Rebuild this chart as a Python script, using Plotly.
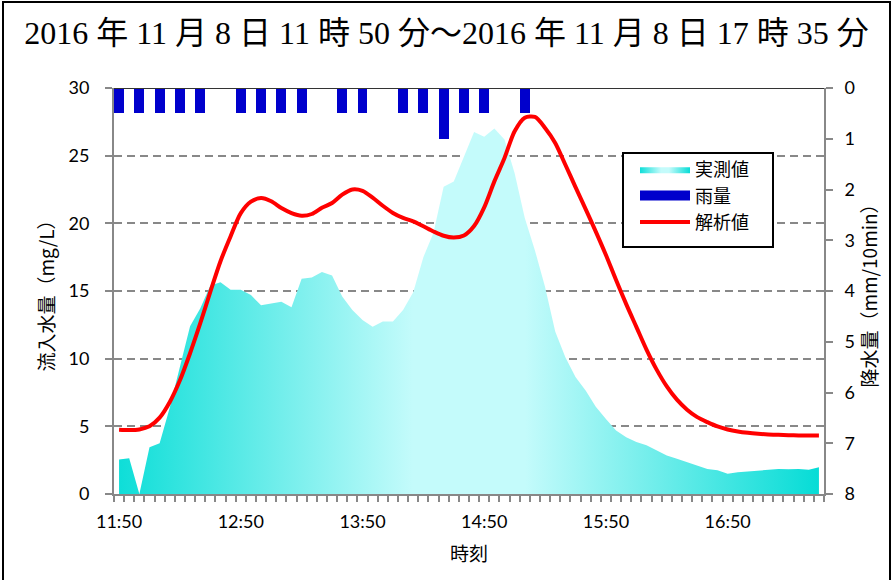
import plotly.graph_objects as go

# 5-minute categories 11:50 .. 17:35
times = [f"{(11*60+50+5*i)//60}:{(11*60+50+5*i)%60:02d}" for i in range(70)]
tick_labels = ["11:50", "12:50", "13:50", "14:50", "15:50", "16:50"]

measured = [2.55, 2.65, 0.0, 3.45, 3.75, 6.4, 9.4, 12.4, 13.7, 15.4,
            15.65, 15.1, 15.1, 14.7, 13.95, 14.1, 14.2, 13.8, 15.9, 16.0,
            16.4, 16.15, 14.6, 13.6, 12.85, 12.35, 12.75, 12.75, 13.6, 14.9,
            17.5, 19.3, 22.7, 23.1, 24.95, 26.75, 26.4, 27.0, 26.2, 23.7,
            20.4, 18.0, 15.3, 12.0, 10.1, 8.65, 7.65, 6.45, 5.55, 4.7,
            4.2, 3.85, 3.6, 3.2, 2.85, 2.6, 2.35, 2.05, 1.85, 1.75,
            1.5, 1.6, 1.65, 1.72, 1.78, 1.85, 1.83, 1.85, 1.8, 1.98]

analysis = [4.75, 4.72, 4.77, 5.0, 5.64, 6.8, 8.4, 10.4, 12.6, 14.95,
            17.2, 19.05, 20.75, 21.6, 21.87, 21.63, 21.13, 20.76, 20.56, 20.69,
            21.15, 21.5, 22.12, 22.5, 22.4, 21.9, 21.3, 20.77, 20.4, 20.15,
            19.78, 19.4, 19.08, 18.95, 19.1, 19.8, 21.18, 23.1, 24.83, 26.8,
            27.8, 27.86, 27.05, 25.94, 24.33, 22.68, 21.05, 19.39, 17.66, 15.81,
            14.03, 12.35, 10.67, 9.19, 7.95, 6.97, 6.23, 5.68, 5.31, 4.99,
            4.77, 4.62, 4.52, 4.45, 4.4, 4.37, 4.35, 4.33, 4.32, 4.32]

# 10-minute rainfall
rain_times = times[::2]
rain = [0.5, 0.5, 0.5, 0.5, 0.5, 0.0, 0.5, 0.5, 0.5, 0.5,
        0.0, 0.5, 0.5, 0.0, 0.5, 0.5, 1.0, 0.5, 0.5, 0.0,
        0.5, 0.0, 0.0, 0.0, 0.0, 0.0, 0.0, 0.0, 0.0, 0.0,
        0.0, 0.0, 0.0, 0.0, 0.0]

JP = "'Noto Sans CJK JP'"
NUM = "Lato, 'Noto Sans CJK JP'"
GRAY = "#888888"
BLUE = "#0000CC"

fig = go.Figure()

fig.add_trace(go.Scatter(
    x=times, y=measured, name="実測値", mode="lines",
    line=dict(width=0, color="rgba(0,0,0,0)"),
    fill="tozeroy",
    fillgradient=dict(type="horizontal",
                      colorscale=[[0, "#0EDED8"], [0.42, "#C4FBFB"],
                                  [0.58, "#C4FBFB"], [1, "#06DCD6"]]),
    legendgroup="a", hoverinfo="skip"))

fig.add_trace(go.Bar(
    x=rain_times, y=rain, name="雨量", yaxis="y2",
    marker=dict(color=BLUE, line=dict(width=0)),
    width=0.98, legendgroup="b", showlegend=False))

# legend entry for rainfall (wide blue symbol)
fig.add_trace(go.Scatter(
    x=[None], y=[None], name="雨量", mode="lines",
    line=dict(color=BLUE, width=10), legendgroup="b"))

fig.add_trace(go.Scatter(
    x=times, y=analysis, name="解析値", mode="lines",
    line=dict(color="#FF0000", width=4, shape="spline", smoothing=0.8),
    legendgroup="c"))

tickvals = times
ticktext = [t if t in tick_labels else "" for t in times]

fig.update_layout(
    width=893, height=580,
    margin=dict(l=114, r=69, t=88, b=86),
    paper_bgcolor="white", plot_bgcolor="white",
    bargap=0,
    title=dict(text="2016 年 11 月 8 日 11 時 50 分～2016 年 11 月 8 日 17 時 35 分",
               font=dict(family="'Liberation Serif', 'Noto Sans CJK JP'", size=32, color="black"),
               x=0.5, xanchor="center", xref="container",
               y=1 - 33/580, yanchor="middle", yref="container"),
    xaxis=dict(
        type="category", range=[-0.5, 69.5], automargin=False,
        tickmode="array", tickvals=tickvals, ticktext=ticktext, tickangle=0,
        tickson="boundaries", ticks="outside", ticklen=6, tickwidth=1.5, tickcolor=GRAY,
        showline=True, linecolor=GRAY, linewidth=2,
        showgrid=False, zeroline=False,
        tickfont=dict(family=NUM, size=18, color="black"),
        ticklabelstandoff=10,
        title=dict(text="時刻", font=dict(family=JP, size=19, color="black"), standoff=17),
    ),
    yaxis=dict(
        range=[0, 30], dtick=5, tick0=0, automargin=False,
        ticks="outside", ticklen=7, tickwidth=1.5, tickcolor=GRAY,
        showline=True, linecolor=GRAY, linewidth=2,
        showgrid=True, gridcolor=GRAY, gridwidth=1.5, griddash="8px,5px",
        zeroline=False,
        tickfont=dict(family=NUM, size=18, color="black"),
        ticklabelstandoff=12,
        title=dict(text="流入水量（mg/L）", font=dict(family=JP, size=19, color="black"), standoff=9),
    ),
    yaxis2=dict(
        overlaying="y", side="right", range=[8, 0], dtick=1, tick0=0, automargin=False,
        ticks="outside", ticklen=7, tickwidth=1.5, tickcolor=GRAY,
        showline=True, linecolor=GRAY, linewidth=2,
        showgrid=False, zeroline=False,
        tickfont=dict(family=NUM, size=18, color="black"),
        ticklabelstandoff=8,
        title=dict(text="降水量（mm/10min）", font=dict(family=JP, size=19, color="black"), standoff=10),
    ),
    legend=dict(
        x=(635-114)/710, y=(494-151)/406, xanchor="left", yanchor="top",
        bgcolor="rgba(0,0,0,0)", borderwidth=0,
        font=dict(family=JP, size=18, color="black"),
        itemwidth=50, tracegroupgap=9, traceorder="normal",
    ),
    showlegend=True,
    shapes=[
        dict(type="line", xref="paper", yref="y", x0=0, x1=1, y0=30, y1=30,
             line=dict(color="#333333", width=2), layer="above"),
        dict(type="rect", xref="paper", yref="paper",
             x0=(623-114)/710, x1=(773-114)/710, y0=(494-247)/406, y1=(494-153)/406,
             line=dict(color="black", width=2), fillcolor="white", layer="above"),
        dict(type="rect", xref="paper", yref="paper",
             x0=(3-114)/710, x1=(890-114)/710, y0=(494-590)/406, y1=(494-2)/406,
             line=dict(color="black", width=2), fillcolor="rgba(0,0,0,0)", layer="above"),
    ],
)

fig.write_html("out.html", config={"displayModeBar": False},
               post_script="document.body.style.margin='0';")
